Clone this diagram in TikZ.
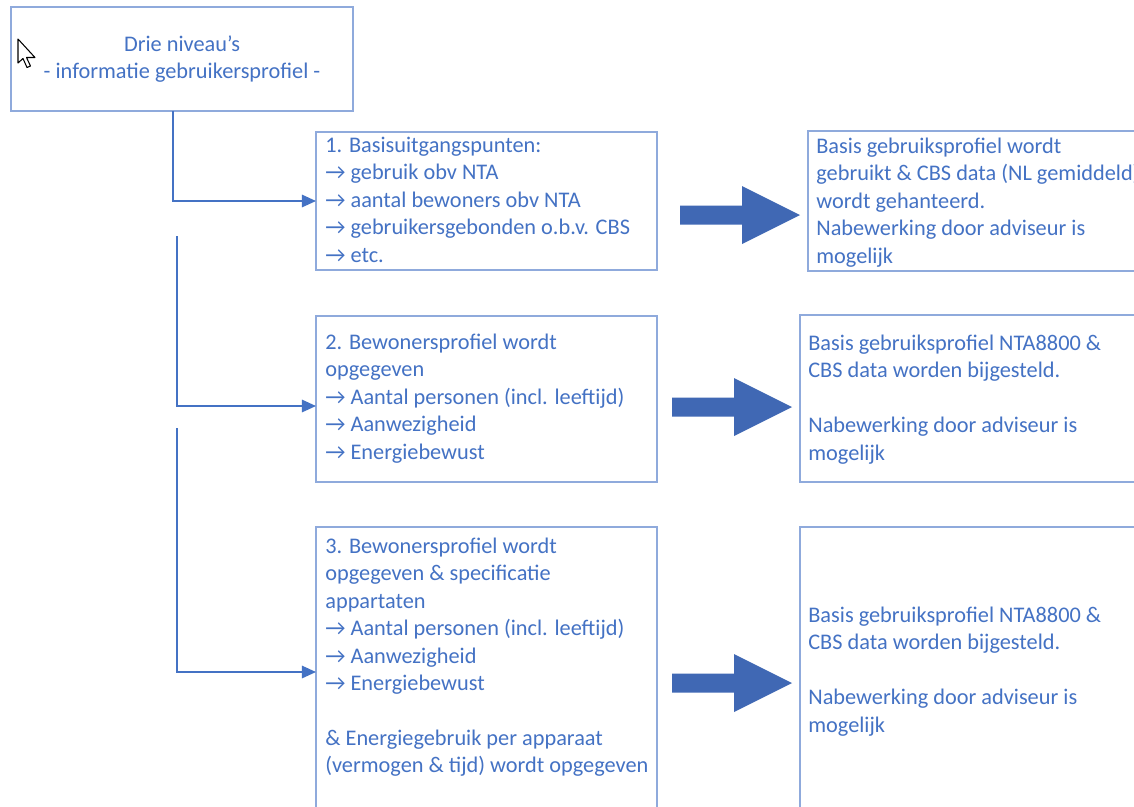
\documentclass[tikz,border=0pt]{standalone}
\usepackage{fontspec}
\setmainfont{Carlito}
\usetikzlibrary{arrows.meta}
\definecolor{txtblue}{HTML}{4472C4}
\definecolor{boxblue}{HTML}{8FAADC}
\definecolor{arrblue}{HTML}{4068B4}

\begin{document}
\begin{tikzpicture}[x=0.02cm,y=-0.02cm,
  box/.style={draw=boxblue, line width=1.1pt, inner sep=0pt, outer sep=0pt, fill=white},
  txt/.style={text=txtblue, font=\fontsize{12.7pt}{15.6pt}\selectfont, inner sep=0pt, align=left, anchor=north west},
  conn/.style={draw=txtblue, line width=1.1pt, -{Triangle[length=8pt,width=7pt]}},
  bigarrow/.pic={\fill[arrblue] (0,-9.5) -- (62,-9.5) -- (62,-29) -- (120,0) -- (62,29) -- (62,9.5) -- (0,9.5) -- cycle;}
]
\useasboundingbox (0,0) rectangle (1134,806);
\fill[white] (0,0) rectangle (1134,806);
\clip (0,0) rectangle (1134,806);

% boxes
\node[box, minimum width=6.84cm, minimum height=2.08cm] (top) at (182,59) {};
\node[box, minimum width=6.82cm, minimum height=2.76cm] (b1) at (486.5,201) {};
\node[box, minimum width=6.82cm, minimum height=3.32cm] (b2) at (486.5,399) {};
\node[box, minimum width=6.82cm, minimum height=6.06cm] (b3) at (486.5,678.5) {};
\node[box, minimum width=7.04cm, minimum height=2.80cm] (r1) at (984,201) {};
\node[box, minimum width=7.20cm, minimum height=3.34cm] (r2) at (980,398.5) {};
\node[box, minimum width=7.20cm, minimum height=6.06cm] (r3) at (980,678.5) {};

% texts
\node[txt, align=center, anchor=north] (ttop) at (182,32)
  {\strut Drie niveau’s\\- informatie gebruikersprofiel -};
\node[txt] (t1) at (325,133)
  {\strut 1. Basisuitgangspunten:\\→ gebruik obv NTA\\→ aantal bewoners obv NTA\\→ gebruikersgebonden o.b.v. CBS\\→ etc.};
\node[txt] (t2) at (325,330)
  {\strut 2. Bewonersprofiel wordt\\opgegeven\\→ Aantal personen (incl. leeftijd)\\→ Aanwezigheid\\→ Energiebewust};
\node[txt] (t3) at (325,534)
  {\strut 3. Bewonersprofiel wordt\\opgegeven \& specificatie\\appartaten\\→ Aantal personen (incl. leeftijd)\\→ Aanwezigheid\\→ Energiebewust\\[15.6pt]\& Energiegebruik per apparaat\\(vermogen \& tijd) wordt opgegeven};
\node[txt] (tr1) at (816,134)
  {\strut Basis gebruiksprofiel wordt\\gebruikt \& CBS data (NL gemiddeld)\\wordt gehanteerd.\\Nabewerking door adviseur is\\mogelijk};
\node[txt] (tr2) at (808,331)
  {\strut Basis gebruiksprofiel NTA8800 \&\\CBS data worden bijgesteld.\\[15.6pt]Nabewerking door adviseur is\\mogelijk};
\node[txt] (tr3) at (808,603)
  {\strut Basis gebruiksprofiel NTA8800 \&\\CBS data worden bijgesteld.\\[15.6pt]Nabewerking door adviseur is\\mogelijk};

% connectors
\coordinate (j1) at (173,111);
\coordinate (s2) at (177,236);
\coordinate (s3) at (177,428);
\draw[conn] (top.south -| j1) |- (b1.west);
\draw[conn] (s2) |- ([yshift=-0.14cm]b2.west);
\draw[conn] (s3) |- ([yshift=0.13cm]b3.west);

% block arrows
\pic at (680,215) {bigarrow};
\pic at (672,407) {bigarrow};
\pic at (672,683) {bigarrow};

% mouse pointer
\filldraw[fill=white, draw=black, line width=0.6pt, line join=round]
  (18,39) -- (18,63) -- (23,58.5) -- (27,67.5) -- (30.5,66) -- (26.5,57.5) -- (35,57.5) -- cycle;
\end{tikzpicture}
\end{document}
